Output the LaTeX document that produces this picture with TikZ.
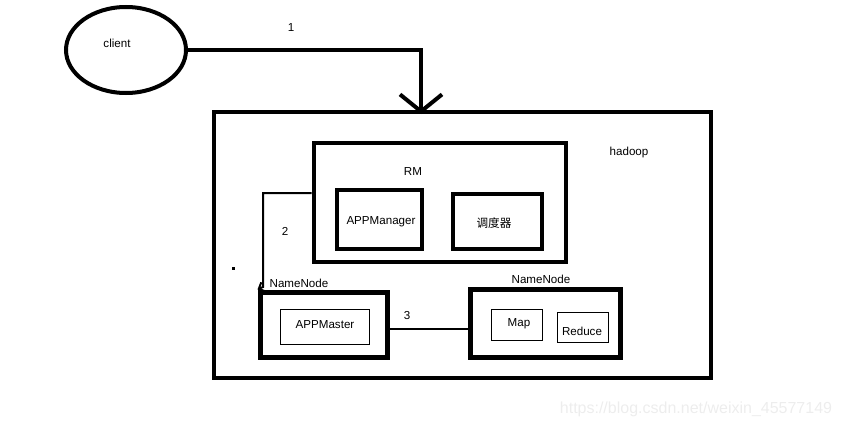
\documentclass[tikz,border=0pt]{standalone}
\usepackage{fontspec}
\setmainfont{Liberation Sans}
\newfontfamily\cjk{Noto Sans CJK SC}
\usetikzlibrary{arrows.meta,shapes.geometric}
\begin{document}
\begin{tikzpicture}[x=1pt,y=-1pt,
  every node/.style={font=\fontsize{11.6}{13}\selectfont},
  thickbox/.style={draw,line width=4pt,rectangle,inner sep=0pt},
  boldbox/.style={draw,line width=5pt,rectangle,inner sep=0pt},
  thinbox/.style={draw,line width=1pt,rectangle,inner sep=0pt},
  lbl/.style={inner sep=0pt}]
\useasboundingbox (0,0) rectangle (841,428);
% client
\node[draw,ellipse,line width=4pt,minimum width=120pt,minimum height=86pt,inner sep=0pt] (client) at (126,50) {};
\node[lbl] (clientt) at (117,43) {client};
% hadoop
\node[thickbox,minimum width=497pt,minimum height=266pt] (hadoop) at (462.5,245) {};
\node[lbl] (hadoopt) at (629,153) {hadoop};
% RM
\node[thickbox,minimum width=252pt,minimum height=119pt] (rm) at (439.5,202.5) {};
\node[lbl] (rmt) at (413,172) {RM};
\node[thickbox,minimum width=85pt,minimum height=59pt] (am) at (379.5,219.5) {};
\node[lbl] (amt) at (381,222) {APPManager};
\node[thickbox,minimum width=89pt,minimum height=55pt] (sch) at (497.5,221.5) {};
\node[lbl] (scht) at (494,223) {\cjk 调度器};
% NameNode left
\node[boldbox,minimum width=127pt,minimum height=65pt] (nn1) at (323.5,324.5) {};
\node[lbl] (nn1t) at (299,283) {NameNode};
\node[thinbox,minimum width=89pt,minimum height=35pt] (apm) at (324.5,326.5) {};
\node[lbl] (apmt) at (325,325) {APPMaster};
% NameNode right
\node[boldbox,minimum width=150pt,minimum height=68pt] (nn2) at (545,323) {};
\node[lbl] (nn2t) at (541,279) {NameNode};
\node[thinbox,minimum width=51pt,minimum height=31pt] (map) at (516.5,324.5) {};
\node[lbl] (mapt) at (519,324) {Map};
\node[thinbox,minimum width=51pt,minimum height=30pt] (red) at (582.5,327) {};
\node[lbl] (redt) at (582,331) {Reduce};
% labels
\node[lbl] (l1) at (291,28) {1};
\node[lbl] (l2) at (285,231) {2};
\node[lbl] (l3) at (407,316) {3};
\node[fill,inner sep=0pt,minimum size=3pt] (dot) at (233,268) {};
\node[lbl,text=black!7,font=\fontsize{16}{18}\selectfont] (wm) at (696,409) {https://blog.csdn.net/weixin\_45577149};
% connectors
\coordinate (a1) at (421,114);
\draw[line width=4pt,-{Straight Barb[length=17pt,width=42pt]}] (client.east) -| (a1);
\coordinate (b1) at (263,193);
\draw[line width=2pt,-{Straight Barb[length=5pt,width=10pt]}] (rm.west |- b1) -- (b1) -- (263,287) -- (nn1.north west);
\coordinate (y3) at (0,329);
\draw[line width=2.5pt] (nn1.east |- y3) -- (nn2.west |- y3);
\end{tikzpicture}
\end{document}
